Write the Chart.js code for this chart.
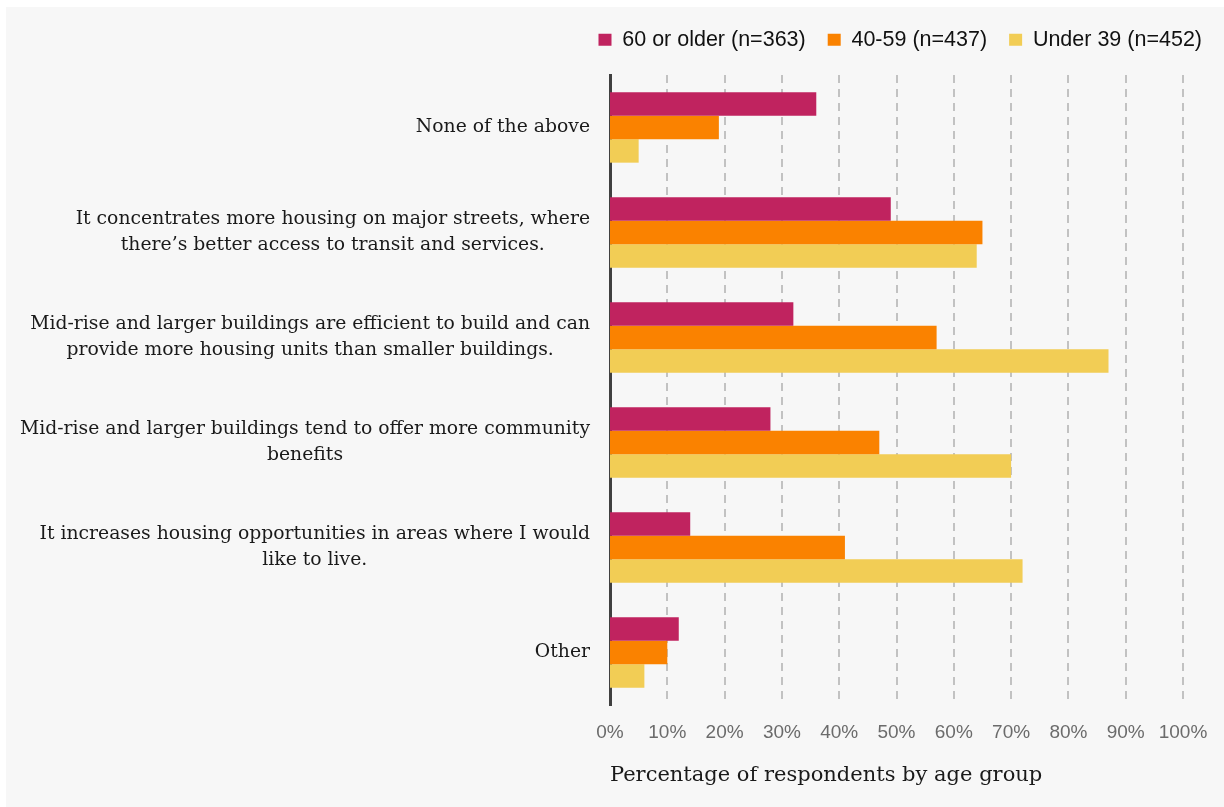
<!DOCTYPE html>
<html>
<head>
<meta charset="utf-8">
<script src="https://cdn.jsdelivr.net/npm/chart.js@4.4.1/dist/chart.umd.min.js"></script>
<style>
  html, body { margin: 0; padding: 0; background: #ffffff; }
  #panel {
    position: absolute; left: 6px; top: 7px;
    width: 1218px; height: 800px;
    background: #f7f7f7;
  }
</style>
</head>
<body>
<div id="panel"><canvas id="chart" width="1218" height="800"></canvas></div>
<script>
// Reasons for supporting mid-rise housing, by age group (%)
const categories = [
  ['None of the above'],
  ['It concentrates more housing on major streets, where', 'there\u2019s better access to transit and services.'],
  ['Mid-rise and larger buildings are efficient to build and can', 'provide more housing units than smaller buildings.'],
  ['Mid-rise and larger buildings tend to offer more community', 'benefits'],
  ['It increases housing opportunities in areas where I would', 'like to live.'],
  ['Other'],
];

const seriesNames = ['60 or older (n=363)', '40-59 (n=437)', 'Under 39 (n=452)'];
const older  = [36, 49, 32, 28, 14, 12];
const middle = [19, 65, 57, 47, 41, 10];
const young  = [5, 64, 87, 70, 72, 6];

const xTicks = [0, 10, 20, 30, 40, 50, 60, 70, 80, 90, 100];
const xTitle = 'Percentage of respondents by age group';

const COLORS = ['#c0235f', '#fa8200', '#f2cd55'];
const SANS = "'Liberation Sans', Arial, sans-serif";
const SERIF = "'DejaVu Serif', Georgia, serif";

// Category labels: each block right-aligned to the axis, lines centred within it
const centredLabels = {
  id: 'centredLabels',
  afterDraw(chart) {
    const scale = chart.scales.y;
    const ctx = chart.ctx;
    ctx.save();
    ctx.font = '18.8px ' + SERIF;
    ctx.fillStyle = '#1a1a1a';
    ctx.textAlign = 'center';
    ctx.textBaseline = 'middle';
    const lineH = 26;
    categories.forEach((lines, i) => {
      const y = scale.getPixelForValue(i);
      const widest = Math.max(...lines.map(l => ctx.measureText(l).width));
      const cx = scale.right - 20 - widest / 2;
      lines.forEach((l, j) => {
        ctx.fillText(l, cx, y + (j - (lines.length - 1) / 2) * lineH);
      });
    });
    ctx.restore();
  },
};

// Move the legend up to the top edge and out to the right edge
const legendNudge = {
  id: 'legendNudge',
  afterLayout(chart) {
    const lg = chart.legend;
    if (!lg) return;
    lg.left += 41; lg.right += 41;
    lg.top -= 14.5; lg.bottom -= 14.5;
  },
};

new Chart(document.getElementById('chart'), {
  type: 'bar',
  data: {
    labels: categories.map(c => c.join(' ')),
    datasets: [
      { label: seriesNames[0], data: older,  backgroundColor: COLORS[0] },
      { label: seriesNames[1], data: middle, backgroundColor: COLORS[1] },
      { label: seriesNames[2], data: young,  backgroundColor: COLORS[2] },
    ],
  },
  options: {
    indexAxis: 'y',
    responsive: false,
    animation: false,
    layout: { padding: { left: 0, right: 41, top: 14.5, bottom: 0 } },
    datasets: {
      bar: { barPercentage: 1, categoryPercentage: 0.67, borderWidth: 0 },
    },
    plugins: {
      tooltip: { enabled: false },
      legend: {
        position: 'top',
        align: 'end',
        labels: {
          boxWidth: 13,
          boxHeight: 12,
          padding: 22,
          color: '#111',
          font: { family: SANS, size: 21.5 },
        },
      },
    },
    scales: {
      x: {
        min: 0,
        max: 100,
        afterBuildTicks: s => { s.ticks = xTicks.map(v => ({ value: v })); },
        grid: {
          color: '#c2c2c2',
          lineWidth: ctx => (ctx.index === 0 ? 0 : 2),
          drawTicks: false,
          tickLength: 0,
        },
        border: { display: false, dash: [8, 6] },
        ticks: {
          padding: 16,
          color: '#6b6b6b',
          font: { family: SANS, size: 19 },
          callback: v => v + '%',
        },
        title: {
          display: true,
          text: xTitle,
          align: 'start',
          color: '#1a1a1a',
          font: { family: SERIF, size: 21 },
          padding: { top: 3, bottom: 19 },
        },
      },
      y: {
        grid: { display: false, drawTicks: false },
        border: { display: true, color: '#404040', width: 3 },
        ticks: { display: false },
        afterFit: s => { s.width = 604; },
      },
    },
  },
  plugins: [centredLabels, legendNudge],
});
</script>
</body>
</html>
